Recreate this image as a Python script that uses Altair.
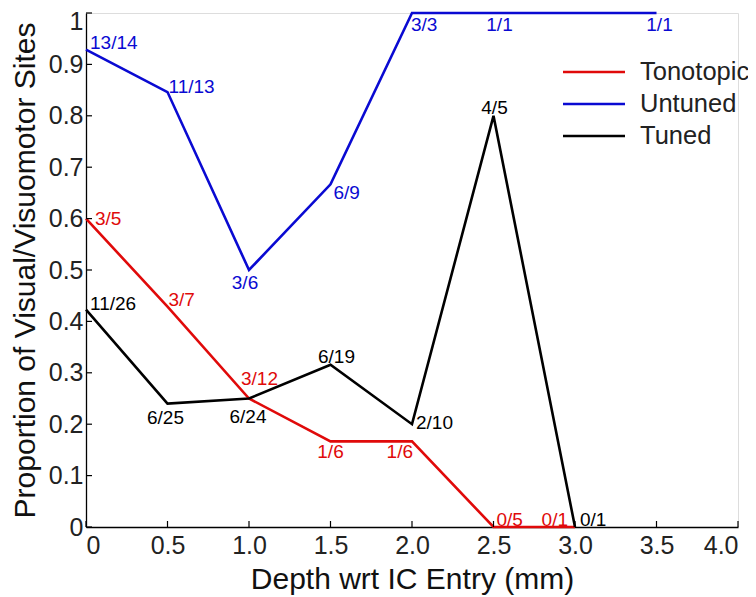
import altair as alt
import pandas as pd

# ---- data ----
depth_tono = [0.0, 0.5, 1.0, 1.5, 2.0, 2.5, 3.0]
num_tono = [3, 3, 3, 1, 1, 0, 0]
den_tono = [5, 7, 12, 6, 6, 5, 1]

depth_untuned = [0.0, 0.5, 1.0, 1.5, 2.0, 2.5, 3.5]
num_untuned = [13, 11, 3, 6, 3, 1, 1]
den_untuned = [14, 13, 6, 9, 3, 1, 1]

depth_tuned = [0.0, 0.5, 1.0, 1.5, 2.0, 2.5, 3.0]
num_tuned = [11, 6, 6, 6, 2, 4, 0]
den_tuned = [26, 25, 24, 19, 10, 5, 1]

series_names = ["Tonotopic", "Untuned", "Tuned"]
x_ticks = [0, 0.5, 1.0, 1.5, 2.0, 2.5, 3.0, 3.5, 4.0]
y_ticks = [0, 0.1, 0.2, 0.3, 0.4, 0.5, 0.6, 0.7, 0.8, 0.9, 1.0]

# ---- styles ----
colors = {"Tonotopic": "#e00a0a", "Untuned": "#0a0ad2", "Tuned": "#000000"}
FONT = "Liberation Sans"
W, H = 652, 514

# label placement (align, dx, dy) per point, per series
placements = {
    "Untuned": [("left", 4, -7), ("left", 1, -5), ("center", -4, 13), ("left", 3, 9),
                ("left", -1, 12), ("center", 6, 12), ("center", 3, 12)],
    "Tonotopic": [("left", 9, 0), ("left", 1, -7), ("left", -8, -20), ("center", 0, 11),
                  ("right", 1, 11), ("left", 3, -7), ("right", -7, -7)],
    "Tuned": [("left", 4, -6), ("center", -2, 14), ("center", -1, 18), ("center", 6, -8),
              ("left", 4, -1), ("center", 1, -8), ("left", 5, -7)],
}

raw = {
    "Tonotopic": (depth_tono, num_tono, den_tono),
    "Untuned": (depth_untuned, num_untuned, den_untuned),
    "Tuned": (depth_tuned, num_tuned, den_tuned),
}

xscale = alt.Scale(domain=[0, 4], nice=False, zero=False)
yscale = alt.Scale(domain=[0, 1], nice=False, zero=False)

layers = []

axis_common = dict(
    domainColor="black", domainWidth=1.3, ticks=False, grid=False,
    labelFont=FONT, labelFontSize=25, labelColor="#222222",
    titleFont=FONT, titleFontSize=30, titleFontWeight="normal", titleColor="#111111",
)

for name in series_names:
    d, n, m = raw[name]
    df = pd.DataFrame({"depth": d, "num": n, "den": m})
    df["prop"] = df["num"] / df["den"]
    df["label"] = [f"{a}/{b}" for a, b in zip(n, m)]
    df["series"] = name
    line = alt.Chart(df).mark_line(color=colors[name], strokeWidth=2.6, clip=False).encode(
        x=alt.X("depth:Q", scale=xscale,
                axis=alt.Axis(values=x_ticks, title="Depth wrt IC Entry (mm)",
                              labelExpr="datum.value == 0 ? '0' : format(datum.value, '.1f')",
                              labelPadding=6, titlePadding=6, **axis_common)),
        y=alt.Y("prop:Q", scale=yscale,
                axis=alt.Axis(values=y_ticks, title="Proportion of Visual/Visuomotor Sites",
                              format="~g", labelPadding=3, titlePadding=8,
                              labelOffset={"condition": {"test": "datum.value == 1", "value": 8}, "value": 0},
                              **axis_common)),
    )
    layers.append(line)
    for i, (align, dx, dy) in enumerate(placements[name]):
        t = alt.Chart(df.iloc[[i]]).mark_text(
            align=align, baseline="middle", dx=dx, dy=dy,
            font=FONT, fontSize=19, color=colors[name]
        ).encode(
            x=alt.X("depth:Q", scale=xscale),
            y=alt.Y("prop:Q", scale=yscale),
            text="label:N",
        )
        layers.append(t)

# inward ticks
xt = pd.DataFrame({"t": x_ticks})
yt = pd.DataFrame({"t": y_ticks})
layers.append(alt.Chart(xt).mark_rule(color="black", strokeWidth=1.2).encode(
    x=alt.X("t:Q", scale=xscale), y=alt.value(H), y2=alt.value(H - 6)))
layers.append(alt.Chart(yt).mark_rule(color="black", strokeWidth=1.2).encode(
    y=alt.Y("t:Q", scale=yscale), x=alt.value(0), x2=alt.value(6)))

# manual legend
for i, name in enumerate(series_names):
    ly = 59 + 32 * i
    ldf = pd.DataFrame({"name": [name]})
    layers.append(alt.Chart(ldf).mark_rule(color=colors[name], strokeWidth=2.6).encode(
        x=alt.value(477), x2=alt.value(539), y=alt.value(ly)))
    layers.append(alt.Chart(ldf).mark_text(
        align="left", baseline="middle", font=FONT, fontSize=25.5, color="#222222").encode(
        x=alt.value(554), y=alt.value(ly), text="name:N"))

chart = alt.layer(*layers).properties(
    width=W, height=H,
    autosize=alt.AutoSizeParams(type="none"),
    padding={"left": 78, "top": 5, "right": 10, "bottom": 70},
).configure_view(stroke=None).configure(background="white")

chart.save("out.html", embed_options={"renderer": "svg", "actions": False})
